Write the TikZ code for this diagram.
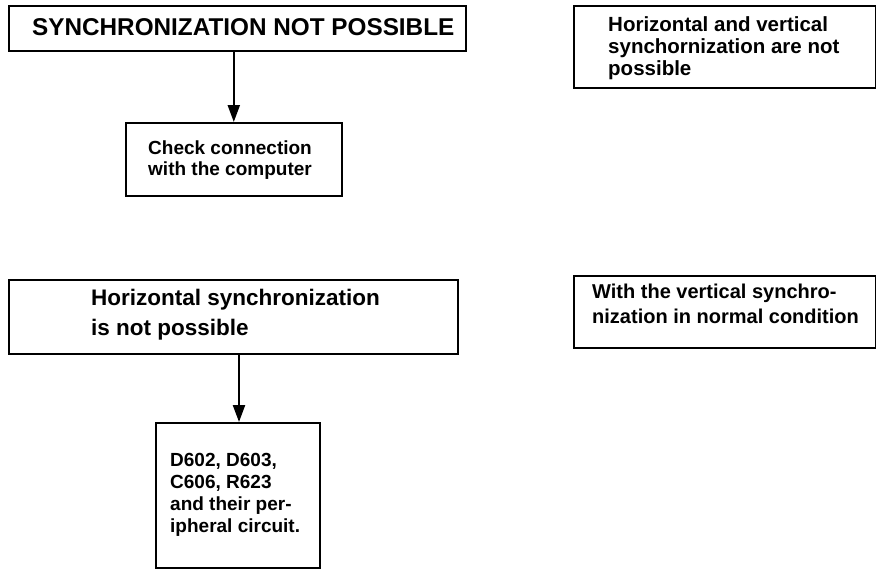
\documentclass[tikz,border=0pt]{standalone}
\usepackage{fontspec}
\setmainfont{Liberation Sans}
\usetikzlibrary{arrows.meta}
\begin{document}
\begin{tikzpicture}[x=1pt,y=-1pt,
  box/.style={draw=black,line width=1.6pt,rectangle,inner sep=0pt,anchor=north west},
  txt/.style={anchor=base west,inner sep=0pt,align=left,font=\bfseries\fontsize{19}{21}\selectfont},
  bigtxt/.style={anchor=base west,inner sep=0pt,align=left,font=\bfseries\fontsize{22.5}{30}\selectfont},
  flow/.style={line width=2.2pt,-{Triangle[length=17pt,width=12pt]}}]
\useasboundingbox (0,0) rectangle (876,568);
% boxes
\node[box,minimum width=457pt,minimum height=45pt] (b1) at (8,5) {};
\node[box,minimum width=216pt,minimum height=73pt] (b2) at (125,122) {};
\node[box,minimum width=302pt,minimum height=82pt] (b3) at (573,5) {};
\node[box,minimum width=449pt,minimum height=74pt] (b4) at (8,279) {};
\node[box,minimum width=164pt,minimum height=145pt] (b5) at (155,422) {};
\node[box,minimum width=302pt,minimum height=72pt] (b6) at (573,275) {};
% texts (anchor = baseline of last line)
\node[anchor=base west,inner sep=0pt,font=\bfseries\fontsize{24.3}{28}\selectfont] (t1) at (32,35) {SYNCHRONIZATION NOT POSSIBLE};
\node[txt] (t2) at (148,175) {Check connection\\with the computer};
\node[txt,font=\bfseries\fontsize{20.5}{22}\selectfont] (t3) at (608,75) {Horizontal and vertical\\synchornization are not\\possible};
\node[bigtxt] (t4) at (91,335) {Horizontal synchronization\\is not possible};
\node[txt,font=\bfseries\fontsize{20}{25}\selectfont] (t6) at (592,323) {With the vertical synchro-\\nization in normal condition};
\node[txt,font=\bfseries\fontsize{19}{21.7}\selectfont] (t5) at (170,532) {D602, D603,\\C606, R623\\and their per-\\ipheral circuit.};
% connectors
\draw[flow] (b1.south -| b2.north) -- (b2.north);
\draw[flow] (b4.south -| 239,0) -- (b5.north -| 239,0);
\end{tikzpicture}
\end{document}
